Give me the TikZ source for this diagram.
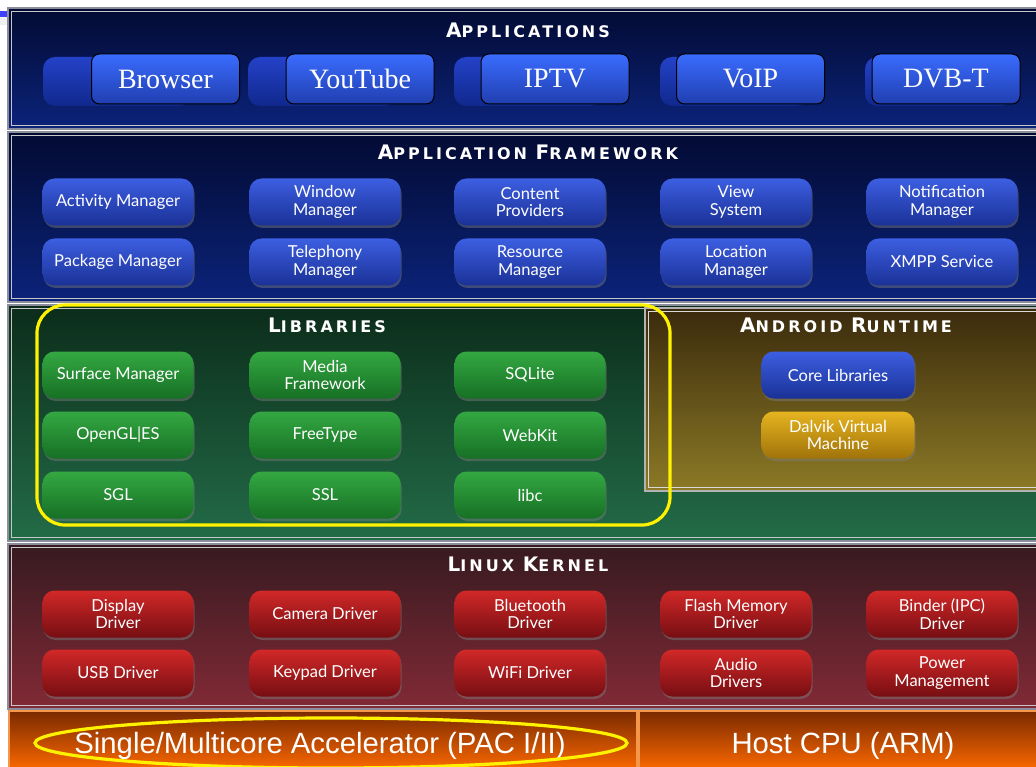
\documentclass[tikz,border=0pt]{standalone}
\usepackage{fontspec}
\setmainfont{Liberation Serif}
\newfontfamily\btnfont{Lato}
\newfontfamily\ttlfont[LetterSpace=19]{DejaVu Sans}
\newfontfamily\arialfont{Liberation Sans}
\usetikzlibrary{shadows}
\newcommand{\tcap}[1]{{\fontsize{20}{20}\selectfont #1}}
\definecolor{navyA}{HTML}{030B33}
\definecolor{navyB}{HTML}{0B237A}
\definecolor{greenA}{HTML}{0B2C1A}
\definecolor{greenB}{HTML}{236C48}
\definecolor{oliveA}{HTML}{3A2A0C}
\definecolor{oliveB}{HTML}{8C7A26}
\definecolor{redA}{HTML}{361A20}
\definecolor{redB}{HTML}{822A36}
\definecolor{orA}{HTML}{7A2A00}
\definecolor{orB}{HTML}{FF6A00}
\definecolor{orEdge}{HTML}{F5974A}
\definecolor{edge}{HTML}{8A8E9A}
\tikzset{
  panel/.style={draw=edge, line width=1.8pt},
  ttl/.style={text=white, font=\ttlfont\bfseries\fontsize{16}{16}\selectfont, inner sep=0pt},
  btn/.style={rounded corners=12pt, minimum width=151pt, minimum height=47pt, inner sep=1pt,
    align=center, text=white, font=\btnfont\fontsize{16.5}{17.5}\selectfont,
    drop shadow={opacity=0.45, shadow xshift=1pt, shadow yshift=-2.5pt}},
  fwbtn/.style={btn, top color={rgb,255:red,60;green,95;blue,225}, bottom color={rgb,255:red,26;green,48;blue,150}},
  grnbtn/.style={btn, top color={rgb,255:red,52;green,168;blue,66}, bottom color={rgb,255:red,22;green,112;blue,36}},
  redbtn/.style={btn, top color={rgb,255:red,210;green,40;blue,40}, bottom color={rgb,255:red,118;green,14;blue,18}},
  goldbtn/.style={btn, top color={rgb,255:red,230;green,180;blue,32}, bottom color={rgb,255:red,160;green,115;blue,10}},
  appback/.style={rounded corners=12pt, minimum width=148pt, minimum height=49pt,
    top color={rgb,255:red,36;green,66;blue,200}, bottom color={rgb,255:red,16;green,40;blue,140}},
  appfront/.style={draw=black, line width=1pt, rounded corners=8pt, minimum width=148pt, minimum height=50pt,
    top color={rgb,255:red,58;green,108;blue,255}, bottom color={rgb,255:red,32;green,62;blue,175},
    text=white, font=\fontsize{28}{28}\selectfont},
  cpu/.style={draw=orEdge, line width=2pt, top color=orA, bottom color=orB},
  cputext/.style={text=white, font=\arialfont\fontsize{29.3}{29.3}\selectfont},
  hilite/.style={draw=yellow, line width=3.2pt},
}
\begin{document}
\begin{tikzpicture}[x=1pt,y=-1pt]
\useasboundingbox (0,0) rectangle (1036,767);
\clip (0,0) rectangle (1036,767);
\fill[white] (0,0) rectangle (1036,767);
% slide decoration
\fill[gray!12] (0,17) rectangle (30,25);
\fill[blue!75!white] (0,11) rectangle (14,17);

% panels
\shade[top color=navyA, bottom color=navyB] (8,8) rectangle (1045,129);
\draw[panel] (8,8) rectangle (1045,129);
\draw[gray!45, line width=0.6pt] (11.5,11.5) rectangle (1045,125.5);
\shade[top color=navyA, bottom color=navyB] (8,132) rectangle (1045,302);
\draw[panel] (8,132) rectangle (1045,302);
\draw[gray!45, line width=0.6pt] (11.5,135.5) rectangle (1045,298.5);
\shade[top color=greenA, bottom color=greenB] (8,305) rectangle (1045,541);
\draw[panel] (8,305) rectangle (1045,541);
\draw[gray!45, line width=0.6pt] (11.5,308.5) rectangle (1045,537.5);
\shade[top color=oliveA, bottom color=oliveB] (645,308) rectangle (1045,491);
\draw[draw=gray!60, line width=1.6pt] (645,308) rectangle (1045,491);
\draw[gray!30, line width=0.6pt] (648.5,311.5) rectangle (1045,487.5);
\shade[top color=redA, bottom color=redB] (8,544) rectangle (1045,709);
\draw[panel] (8,544) rectangle (1045,709);
\draw[gray!45, line width=0.6pt] (11.5,547.5) rectangle (1045,705.5);

% titles
\node[ttl] (tapp) at (528,30) {\tcap{A}PPLICATIONS};
\node[ttl] (tfw) at (528,152) {\tcap{A}PPLICATION \tcap{F}RAMEWORK};
\node[ttl] (tlib) at (327,325) {\tcap{L}IBRARIES};
\node[ttl] (trt) at (846,325) {\tcap{A}NDROID \tcap{R}UNTIME};
\node[ttl] (tlk) at (528,564) {\tcap{L}INUX \tcap{K}ERNEL};

% applications
\node[appback] (ab1) at (117,81.5) {};
\node[appback] (ab2) at (322,81.5) {};
\node[appback] (ab3) at (528,81.5) {};
\node[appback] (ab4) at (734,81.5) {};
\node[appback] (ab5) at (939,81.5) {};
\node[appfront] (browser) at (165.5,79) {Browser};
\node[appfront] (youtube) at (360,79) {YouTube};
\node[appfront] (iptv) at (555,79) {IPTV};
\node[appfront] (voip) at (750.5,79) {VoIP};
\node[appfront] (dvbt) at (946,79) {DVB-T};

% application framework
\node[fwbtn] (am) at (118,202) {Activity Manager};
\node[fwbtn] (wm) at (325,202) {Window\\Manager};
\node[fwbtn] (cp) at (530,202) {Content\\Providers};
\node[fwbtn] (vs) at (736,202) {View\\System};
\node[fwbtn] (nm) at (942,202) {Notification\\Manager};
\node[fwbtn] (pm) at (118,262) {Package Manager};
\node[fwbtn] (tm) at (325,262) {Telephony\\Manager};
\node[fwbtn] (rm) at (530,262) {Resource\\Manager};
\node[fwbtn] (lm) at (736,262) {Location\\Manager};
\node[fwbtn] (xmpp) at (942,262) {XMPP Service};

% libraries
\node[grnbtn] (sm) at (118,375) {Surface Manager};
\node[grnbtn] (mf) at (325,375) {Media\\Framework};
\node[grnbtn] (sql) at (530,375) {SQLite};
\node[grnbtn] (gl) at (118,435) {OpenGL|ES};
\node[grnbtn] (ft) at (325,435) {FreeType};
\node[grnbtn] (wk) at (530,435) {WebKit};
\node[grnbtn] (sgl) at (118,495) {SGL};
\node[grnbtn] (ssl) at (325,495) {SSL};
\node[grnbtn] (libc) at (530,495) {libc};

% android runtime
\node[fwbtn, minimum width=153pt] (core) at (838,375) {Core Libraries};
\node[goldbtn, minimum width=153pt] (dalvik) at (838,435) {Dalvik Virtual\\Machine};

% linux kernel
\node[redbtn] (dd) at (118,614) {Display\\Driver};
\node[redbtn] (cd) at (325,614) {Camera Driver};
\node[redbtn] (bd) at (530,614) {Bluetooth\\Driver};
\node[redbtn] (fd) at (736,614) {Flash Memory\\Driver};
\node[redbtn] (bind) at (942,614) {Binder (IPC)\\Driver};
\node[redbtn] (usb) at (118,673) {USB Driver};
\node[redbtn] (kd) at (325,673) {Keypad Driver};
\node[redbtn] (wifi) at (530,673) {WiFi Driver};
\node[redbtn] (ad) at (736,673) {Audio\\Drivers};
\node[redbtn] (pw) at (942,673) {Power\\Management};

% hardware
\node[cpu, minimum width=628pt, minimum height=60pt, anchor=north west] (pac) at (8,710) {};
\node[cpu, minimum width=410pt, minimum height=60pt, anchor=north west] (host) at (638,710) {};
\node[cputext] (pact) at (320,746) {Single/Multicore Accelerator (PAC I/II)};
\node[cputext] (hostt) at (843,746) {Host CPU (ARM)};

% highlights
\draw[hilite, rounded corners=28pt] (37,305) rectangle (670,525);
\draw[hilite] (331,743) ellipse [x radius=296, y radius=25];
\end{tikzpicture}
\end{document}
